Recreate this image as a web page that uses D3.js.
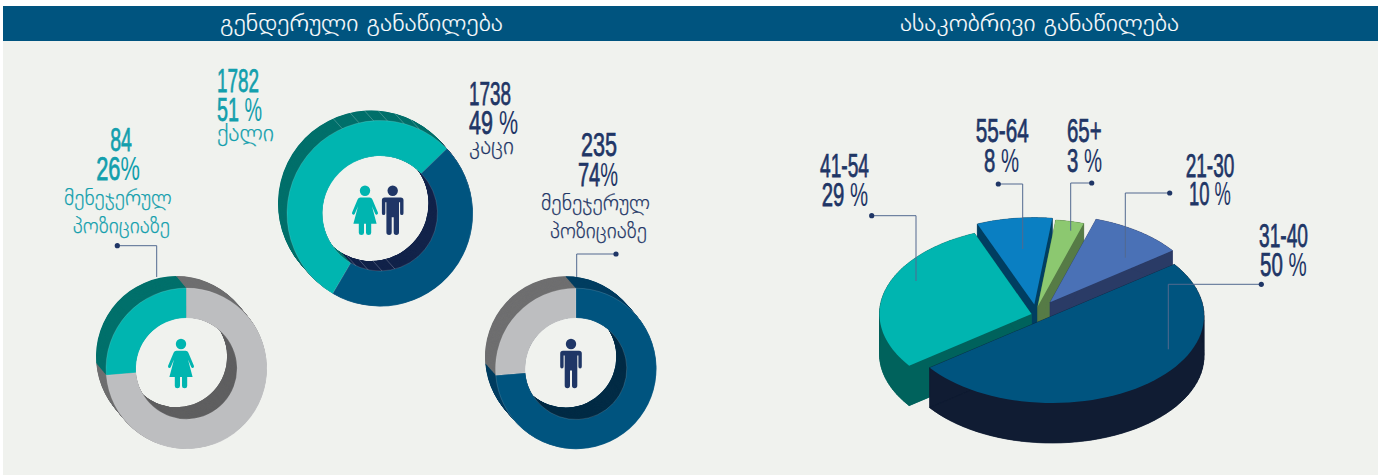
<!DOCTYPE html>
<html lang="ka">
<head>
<meta charset="utf-8">
<title>განაწილება</title>
<script src="https://cdn.jsdelivr.net/npm/d3@7"></script>
<style>
html,body{margin:0;padding:0;background:#fff;overflow:hidden}
svg{display:block}
</style>
</head>
<body>
<div id="chart"></div>
<script>
// ---- data ----
const titles = ["გენდერული განაწილება", "ასაკობრივი განაწილება"];
const genderNames = ["ქალი", "კაცი"];
const genderCounts = [1782, 1738];
const genderPercents = [51, 49];
const genderArcShares = [54.3, 45.7];           // the ring as actually drawn in the picture
const managerCounts = [84, 235];
const managerPercents = [26, 74];
const managerLabel = ["მენეჯერულ", "პოზიციაზე"];
const ageGroups = ["31-40", "41-54", "55-64", "65+", "21-30"];
const agePercents = [50, 29, 8, 3, 10];

// ---- layout and colours ----
const W = 1378, H = 475;
const rad = d => d * Math.PI / 180;
const NAVY = "#1f3666", TEAL = "#00b5b0", TEALTEXT = "#139fad", BLUE = "#00547f";
const DARKTEAL = "#00706b", GREY = "#bdbec0";
const NUMFONT = "'Liberation Sans Narrow','Liberation Sans',sans-serif";
const GEOFONT = "'DejaVu Sans',sans-serif";

const svg = d3.select("#chart").append("svg").attr("width", W).attr("height", H);
svg.append("rect").attr("x", 3).attr("y", 6).attr("width", W - 3).attr("height", H - 6).attr("fill", "#f0f2ee");
svg.append("rect").attr("x", 3).attr("y", 6).attr("width", W - 3).attr("height", 35).attr("fill", BLUE);

// one <text> per label block; each run is fitted to the width seen in the picture
const ruler = svg.append("text").attr("x", -2000).attr("y", -2000);
function runLength(str, family, size, weight) {
  ruler.attr("font-family", family).attr("font-size", size).attr("font-weight", weight).text(str);
  return ruler.node().getComputedTextLength();
}
function block(lines) {
  const text = svg.append("text").attr("xml:space", "preserve");
  lines.forEach(l => {
    const lens = l.runs.map(r => runLength(r.t, l.family, l.size, r.w || l.weight));
    const sx = l.width / d3.sum(lens);
    let x = l.x;
    l.runs.forEach((r, i) => {
      text.append("tspan").text(r.t)
        .attr("x", x).attr("y", l.base)
        .attr("textLength", lens[i] * sx).attr("lengthAdjust", "spacingAndGlyphs")
        .attr("font-family", l.family).attr("font-size", l.size)
        .attr("font-weight", r.w || l.weight).attr("fill", l.fill)
        .attr("stroke", l.fill).attr("stroke-width", r.s === undefined ? l.stroke : r.s);
      x += lens[i] * sx;
    });
  });
}
const num = (x, base, width, fill, str) => {
  const m = str.match(/^([^%]*?)(\s?)%$/);
  const runs = m ? [{t: m[1] + (m[2] ? "\u00a0" : "")}, {t: "%", s: 0}] : [{t: str}];
  return {x, base, width, fill, runs, size: 32.5, family: NUMFONT, weight: 400, stroke: .75};
};
const geo = (x, base, width, size, fill, str, stroke) =>
  ({x, base, width, size, fill, runs: [{t: str}], family: GEOFONT, weight: 200, stroke: stroke === undefined ? .25 : stroke});

// titles
block([geo(220, 31, 283, 24, "#ffffff", titles[0], .2)]);
block([geo(900, 31, 279, 24, "#ffffff", titles[1], .2)]);

// ---- extruded rings ----
function ring(cx, cy, R, r, dx, dy, shares, start, faces, walls, innerWalls) {
  const pie = d3.pie().sort(null).value(d => d).startAngle(rad(start)).endAngle(rad(start + 360));
  const slices = pie(shares);
  const arc = d3.arc().innerRadius(r).outerRadius(R);
  const edge = d3.arc().innerRadius(r).outerRadius(r + 1.5);
  const g = svg.append("g");
  const steps = d3.range(0, 1, 1 / 30);
  steps.forEach(t => {
    const l = g.append("g").attr("transform", `translate(${cx + dx * (1 - t)},${cy + dy * (1 - t)})`);
    l.selectAll("path").data(slices).join("path").attr("d", arc).attr("fill", (d, i) => walls[i]);
  });
  steps.forEach(t => {
    const l = g.append("g").attr("transform", `translate(${cx + dx * (1 - t)},${cy + dy * (1 - t)})`);
    l.selectAll("path").data(slices).join("path").attr("d", edge).attr("fill", (d, i) => innerWalls[i]);
  });
  const f = g.append("g").attr("transform", `translate(${cx},${cy})`);
  f.selectAll("path").data(slices).join("path").attr("d", arc).attr("fill", (d, i) => faces[i])
    .attr("stroke", "rgba(255,255,255,.28)").attr("stroke-width", .5);
}
ring(380, 213.5, 93, 57.5, -9, -10, genderArcShares, 210.5,
  [TEAL, BLUE], [DARKTEAL, "#12234a"], [DARKTEAL, "#12234a"]);
ring(186.5, 368.6, 80.5, 50.6, -10, -12, managerCounts, 265.2,
  [TEAL, GREY], [DARKTEAL, "#6f6f70"], ["#5f5f60", "#5f5f60"]);
ring(576, 368.7, 80.5, 50.8, -10.5, -12, managerCounts, 265.2,
  [GREY, BLUE], ["#6f6f70", "#003e61"], ["#022b45", "#022b45"]);

// faint hatch seen on the walls of the large ring
function hatch(cx, cy, R, dx, dy, angles) {
  svg.append("g").attr("stroke", "rgba(255,255,255,.32)").attr("stroke-width", .7)
    .selectAll("line").data(angles).join("line")
    .attr("x1", a => cx + R * Math.sin(rad(a))).attr("y1", a => cy - R * Math.cos(rad(a)))
    .attr("x2", a => cx + dx + R * Math.sin(rad(a))).attr("y2", a => cy + dy - R * Math.cos(rad(a)));
}
hatch(371, 203.5, 93, 9, 10, [-24, -13, -4, 4.5, 15, 25]);
hatch(380, 213.5, 57.5, -9, -10, [165, 178, 192, 205]);

// ---- pictograms (origin at the centre of the head) ----
const womanBody = "M-4.6,6.7H4.6Q6.6,6.7 7.4,8.7L12.9,21.8Q13.4,23.3 12.1,23.9Q10.9,24.4 10.2,23L7,15.6L11.6,33H6.2V42Q6.2,44.2 3.6,44.2Q1,44.2 1,42V33H-1V42Q-1,44.2 -3.6,44.2Q-6.2,44.2 -6.2,42V33H-11.6L-7,15.6L-10.2,23Q-10.9,24.4 -12.1,23.9Q-13.4,23.3 -12.9,21.8L-7.4,8.7Q-6.6,6.7 -4.6,6.7Z";
const manBody = "M-8,6.7H8Q10.8,6.7 10.8,9.5V22.5Q10.8,24.4 9.1,24.4Q7.4,24.4 7.4,22.5V11.5H6.3V41.6Q6.3,44.2 3.6,44.2Q1,44.2 1,41.6V26.5H-1V41.6Q-1,44.2 -3.6,44.2Q-6.3,44.2 -6.3,41.6V11.5H-7.4V22.5Q-7.4,24.4 -9.1,24.4Q-10.8,24.4 -10.8,22.5V9.5Q-10.8,6.7 -8,6.7Z";
function person(x, y, body, fill) {
  const g = svg.append("g").attr("transform", `translate(${x},${y})`).attr("fill", fill);
  g.append("circle").attr("r", 5.2);
  g.append("path").attr("d", body);
}
person(365, 190.7, womanBody, TEAL);
person(392.7, 190.7, manBody, NAVY);
person(181, 344, womanBody, TEAL);
person(571, 344, manBody, NAVY);

// ---- exploded 3D pie ----
const RX = 152, RY = 87, DEPTH = 40;
const agePie = d3.pie().sort(null).value(d => d).startAngle(rad(53.6)).endAngle(rad(413.6));
const ageSlices = agePie(agePercents);
const ageCentres = [[1052, 316], [1031.5, 314], [1034.3, 304.6], [1037.7, 306.4], [1050.1, 302.2]];
const ageFaces = [BLUE, TEAL, "#0a7fc2", "#8cc870", "#4a71b6"];
const ageWalls = ["#101c33", "#00625c", "#003e61", "#567b46", "#2a3b66"];
const paintOrder = [2, 3, 4, 1, 0];
const rimX = d3.scaleLinear().domain([-1, 1]).range([-RX, RX]);
const rimY = d3.scaleLinear().domain([-1, 1]).range([-RY, RY]);
const shape = d3.line().curve(d3.curveLinearClosed);
const quad = (a, b) => [a, b, [b[0], b[1] + DEPTH], [a[0], a[1] + DEPTH]];
paintOrder.forEach(i => {
  const s = ageSlices[i];
  const [cx, cy] = ageCentres[i];
  // outline of the sector, then each edge pushed down to make the walls
  const rim = d3.range(0, 61).map(k => {
    const a = s.startAngle + (s.endAngle - s.startAngle) * k / 60;
    return [cx + rimX(Math.sin(a)), cy - rimY(Math.cos(a))];
  });
  const top = [[cx, cy], ...rim];
  const pieces = [
    ...d3.pairs(rim).map(([a, b]) => quad(a, b)),
    quad([cx, cy], rim[0]),
    quad([cx, cy], rim[60]),
    top.map(p => [p[0], p[1] + DEPTH])
  ];
  const g = svg.append("g");
  g.selectAll(".wall").data(pieces).join("path").attr("class", "wall").attr("d", shape)
    .attr("fill", ageWalls[i]).attr("stroke", ageWalls[i]).attr("stroke-width", .4);
  g.append("path").attr("d", shape(top)).attr("fill", ageFaces[i]);
});

// ---- leader lines ----
function leader(x0, y0, x1, y1) {
  svg.append("path").attr("d", d3.line()([[x0, y0], [x1, y0], [x1, y1]]))
    .attr("fill", "none").attr("stroke", "#52698f").attr("stroke-width", 1);
  svg.append("circle").attr("cx", x0).attr("cy", y0).attr("r", 2.6).attr("fill", NAVY);
}
leader(117.3, 245.7, 156.7, 277);
leader(616, 254, 576.7, 277);
leader(871.7, 215.7, 916, 281);
leader(998.3, 184, 1022.7, 249);
leader(1091.7, 183, 1070.7, 230.7);
leader(1169.7, 193, 1125.3, 257.7);
leader(1261.3, 284.3, 1168.3, 349.3);

// ---- labels ----
block([
  num(217, 91.7, 42, TEALTEXT, String(genderCounts[0])),
  num(217, 121, 45, TEALTEXT, genderPercents[0] + " %"),
  geo(217, 141, 57, 24, TEALTEXT, genderNames[0])
]);
block([
  num(469, 105, 42, NAVY, String(genderCounts[1])),
  num(469, 134, 49, NAVY, genderPercents[1] + " %"),
  geo(469, 154, 45, 24, NAVY, genderNames[1])
]);
block([
  num(110.2, 150.7, 21.7, TEALTEXT, String(managerCounts[0])),
  num(96.2, 180, 43.7, TEALTEXT, managerPercents[0] + "%"),
  geo(64, 205, 107.7, 22, TEALTEXT, managerLabel[0]),
  geo(72.7, 233, 97.3, 22, TEALTEXT, managerLabel[1])
]);
block([
  num(581, 156, 36, NAVY, String(managerCounts[1])),
  num(578, 186, 40, NAVY, managerPercents[1] + "%"),
  geo(541, 210, 109, 22, NAVY, managerLabel[0]),
  geo(550, 238, 97, 22, NAVY, managerLabel[1])
]);

const ageLabelSpots = [
  [1259, 247, 49, 1260, 276, 46.7],
  [820, 176.7, 49, 821.7, 205.7, 46.3],
  [975.7, 141.7, 53, 984, 171.7, 35],
  [1067, 141.7, 34.7, 1067, 171.7, 35],
  [1185.7, 176.7, 48.6, 1189, 205, 42]
];
ageGroups.forEach((name, i) => {
  const s = ageLabelSpots[i];
  block([
    num(s[0], s[1], s[2], NAVY, name),
    num(s[3], s[4], s[5], NAVY, agePercents[i] + " %")
  ]);
});
ruler.remove();
</script>
</body>
</html>
